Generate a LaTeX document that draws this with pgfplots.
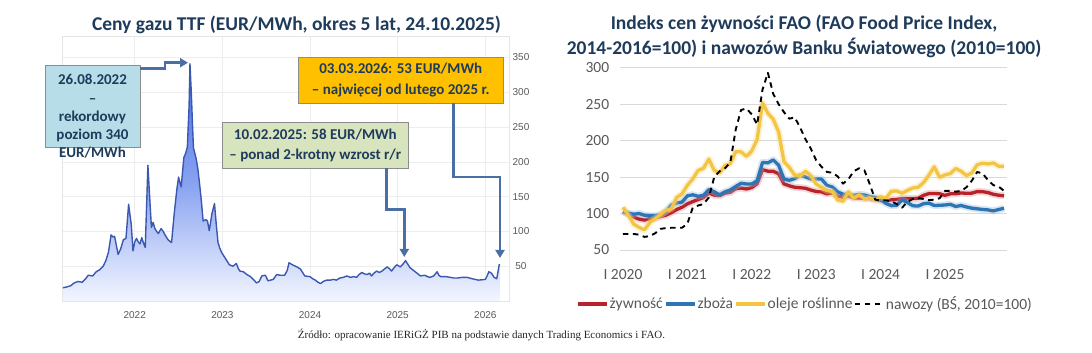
\documentclass[border=0pt]{standalone}
\usepackage{fontspec}
\setmainfont{Carlito}
\newfontfamily\arialf{Liberation Sans}
\newfontfamily\timesf{Liberation Serif}
\usepackage{pgfplots}
\usepackage{pgfplotstable}
\pgfplotsset{compat=1.18}
\usetikzlibrary{arrows.meta}
\definecolor{navy}{HTML}{1F3B5C}
\definecolor{arrowc}{HTML}{4A6FA5}
\definecolor{boxblue}{HTML}{B7DEE8}
\definecolor{boxgreen}{HTML}{D7E4BD}
\definecolor{boxorange}{HTML}{FFC000}
\definecolor{ttfline}{HTML}{3A58B0}
\definecolor{ttftop}{HTML}{4A6EE6}
\definecolor{ttfmid}{HTML}{88A2F1}
\definecolor{ttfbot}{HTML}{F3F6FF}
\definecolor{cred}{HTML}{B8232B}
\definecolor{cblue}{HTML}{2E75B6}
\definecolor{cyellow}{HTML}{F4C542}
\definecolor{lblgray}{HTML}{595959}

\pgfplotstableread{
x y
2021.18 19
2021.22 20
2021.27 22
2021.31 26
2021.35 28
2021.40 27
2021.44 32
2021.47 37
2021.52 36
2021.56 42
2021.60 45
2021.64 50
2021.67 58
2021.70 70
2021.73 95
2021.75 92
2021.77 93
2021.79 80
2021.81 67
2021.84 75
2021.87 88
2021.90 90
2021.93 139
2021.96 110
2021.98 72
2022.00 85
2022.02 90
2022.04 85
2022.06 82
2022.08 91
2022.10 83
2022.12 77
2022.15 195
2022.17 150
2022.19 106
2022.21 113
2022.23 104
2022.25 100
2022.27 97
2022.30 104
2022.32 101
2022.35 94
2022.38 88
2022.40 86
2022.42 84
2022.45 125
2022.48 160
2022.50 178
2022.52 168
2022.53 164
2022.56 206
2022.58 212
2022.60 221
2022.62 280
2022.63 341
2022.645 300
2022.66 250
2022.67 220
2022.70 205
2022.72 190
2022.74 168
2022.76 144
2022.78 115
2022.81 117
2022.83 115
2022.85 101
2022.88 125
2022.91 140
2022.93 110
2022.95 84
2022.97 76
2022.99 70
2023.02 64
2023.05 58
2023.08 52
2023.12 50
2023.14 52
2023.16 54
2023.18 47
2023.20 43
2023.24 42
2023.28 38
2023.32 35
2023.36 30
2023.39 26
2023.42 28
2023.45 36
2023.49 37
2023.52 29
2023.55 30
2023.58 31
2023.62 38
2023.66 37
2023.71 37
2023.74 44
2023.76 55
2023.80 52
2023.85 49
2023.89 46
2023.92 40
2023.94 36
2024.00 35
2024.03 32
2024.06 30
2024.09 27
2024.12 25
2024.15 28
2024.19 30
2024.23 30
2024.27 31
2024.30 30
2024.34 33
2024.38 34
2024.42 36
2024.46 34
2024.50 35
2024.53 34
2024.56 38
2024.59 41
2024.62 39
2024.65 38
2024.68 40
2024.70 36
2024.73 40
2024.76 43
2024.79 41
2024.82 43
2024.85 46
2024.88 49
2024.91 46
2024.93 43
2024.96 48
2024.99 52
2025.03 49
2025.06 53
2025.09 58
2025.12 52
2025.14 48
2025.17 45
2025.20 42
2025.23 39
2025.26 36
2025.31 37
2025.34 35
2025.37 34
2025.41 36
2025.45 42
2025.47 37
2025.49 35
2025.55 35
2025.60 34
2025.64 33
2025.68 33
2025.74 34
2025.79 34
2025.85 32
2025.92 30
2026.00 31
2026.02 36
2026.04 42
2026.07 40
2026.10 34
2026.13 32
2026.16 53
}\ttf

\pgfplotstableread{
m food cer oil fert
0 102.5 103.0 108.7 72
1 99.4 100.4 97.6 72
2 95.1 99.1 85.5 72
3 92.4 100.0 81.0 71
4 91.0 97.7 77.8 68
5 93.1 96.9 87.6 69
6 94.0 96.9 93.1 73
7 95.9 98.6 98.7 79
8 97.8 102.6 104.6 80
9 101.2 111.6 106.4 80.5
10 105.5 114.5 121.9 80.5
11 108.6 115.7 127.0 80.5
12 113.3 124.2 138.8 86
13 116.4 125.7 147.4 108
14 119.2 123.6 159.2 111
15 121.9 125.1 162.0 113
16 128.1 132.8 174.7 122
17 125.3 129.9 159.3 150
18 124.6 125.5 155.6 158
19 128.0 129.6 165.7 162
20 129.2 132.3 168.6 170
21 134.0 137.1 184.8 215
22 135.0 141.5 184.6 242
23 133.7 140.6 178.5 244
24 135.6 140.6 185.9 236
25 141.1 144.8 201.7 222
26 160.2 170.1 251.8 270
27 158.1 169.5 237.5 293
28 157.9 173.5 229.3 264
29 154.7 166.3 211.8 250
30 140.7 147.3 171.1 239
31 138.0 145.6 163.3 230
32 136.0 147.9 152.6 232
33 135.4 152.3 151.3 218
34 134.7 150.3 158.0 202
35 132.2 147.3 152.0 189
36 130.2 147.5 140.4 173
37 129.7 147.2 135.9 164
38 127.0 138.6 131.8 157
39 128.3 136.4 130.0 156
40 124.0 129.7 118.7 151
41 122.4 126.6 116.8 141
42 123.9 125.9 129.9 147
43 121.5 125.0 120.9 158
44 121.5 126.3 125.8 162
45 120.7 125.4 120.0 159
46 120.6 123.3 121.5 140
47 119.1 122.1 118.6 119
48 118.0 120.1 123.0 118
49 117.2 113.8 120.9 118
50 118.9 110.8 130.6 117
51 119.3 111.2 130.9 113
52 120.6 118.7 127.8 108
53 120.4 115.2 131.8 116
54 120.6 110.7 135.0 120
55 120.9 110.2 136.0 121
56 124.9 113.5 142.4 120
57 127.4 114.4 152.7 118.5
58 127.5 111.0 164.1 119
59 127.1 111.3 149.6 121
60 124.9 111.7 153.0 131
61 127.1 112.6 154.8 131
62 127.1 109.7 161.8 130
63 128.3 111.0 158.0 131
64 127.7 109.0 152.1 136
65 128.0 107.4 155.7 145
66 130.1 106.5 166.8 157
67 130.0 105.6 169.1 155
68 128.8 105.0 167.9 146
69 126.4 103.6 169.4 139
70 125.1 105.5 165.0 137
71 124.3 107.3 164.6 131
}\fao

\begin{document}
\begin{tikzpicture}[x=1pt,y=1pt]
\path[fill=white] (0pt,0pt) rectangle (1092pt,353pt);

% ---------- left: TTF ----------
\begin{axis}[at={(62pt,52pt)}, anchor=south west, scale only axis,
  width=447pt, height=264.4pt,
  xmin=2021.17, xmax=2026.27, ymin=0, ymax=380,
  xtick={2022,2023,2024,2025,2026}, ytick={50,100,...,350},
  yticklabel pos=right,
  grid=major, grid style={draw=black!7, line width=0.6pt},
  axis line style={draw=black!10},
  major tick length=0pt,
  /pgf/number format/1000 sep={},
  /pgf/number format/assume math mode=true,
  tick label style={font=\arialf\fontsize{10}{12}\selectfont, text=black!65, inner sep=0pt},
  xticklabel style={anchor=center, yshift=-13.6pt},
  yticklabel style={anchor=center, xshift=12pt},
]
\addplot[draw=none, top color=ttftop, bottom color=ttfbot, middle color=ttfmid, forget plot] table[x=x,y=y] {\ttf} \closedcycle;
\addplot[ttfline, line width=1.4pt, line join=round] table[x=x,y=y] {\ttf};
\end{axis}

% annotations
\node[draw=black!45, fill=boxblue, minimum width=95pt, minimum height=82.3pt, inner sep=0pt] at (92.5pt,246.8pt) {};
\node[align=center, font=\fontsize{15}{18.2}\selectfont\bfseries, text=navy] at (92.5pt,236.6pt) {26.08.2022\\–\\rekordowy\\poziom 340\\EUR/MWh};
\draw[arrowc, line width=2.6pt, -{Triangle[length=8pt,width=9pt]}] (140pt,284.7pt) -- (165pt,284.7pt) -- (165pt,290.3pt) -- (188pt,290.3pt);

\node[draw=black!45, fill=boxgreen, minimum width=186pt, minimum height=46pt, inner sep=0pt] at (315.35pt,208pt) {};
\node[align=center, font=\fontsize{15}{20}\selectfont\bfseries, text=navy] at (315.35pt,208pt) {10.02.2025: 58 EUR/MWh\\– ponad 2-krotny wzrost r/r};
\draw[arrowc, line width=2.6pt, -{Triangle[length=8pt,width=9pt]}] (386.7pt,185pt) -- (386.7pt,143.7pt) -- (404.3pt,143.7pt) -- (404.3pt,96pt);

\node[draw=black!45, fill=boxorange, minimum width=205.5pt, minimum height=46.5pt, inner sep=0pt] at (400.75pt,272.75pt) {};
\node[align=center, font=\fontsize{15}{20.6}\selectfont\bfseries, text=navy] at (400.75pt,272.75pt) {03.03.2026: 53 EUR/MWh\\– najwięcej od lutego 2025 r.};
\draw[arrowc, line width=2.6pt, -{Triangle[length=8pt,width=9pt]}] (453.7pt,249.5pt) -- (453.7pt,176pt) -- (500pt,176pt) -- (500pt,95pt);

\node[font=\fontsize{19.5}{23}\selectfont\bfseries, text=navy] at (296.5pt,328pt) {Ceny gazu TTF (EUR/MWh, okres 5 lat, 24.10.2025)};

% ---------- right: FAO ----------
\begin{axis}[at={(620.3pt,103pt)}, anchor=south west, scale only axis,
  width=386.4pt, height=182.3pt,
  xmin=-0.5, xmax=71.5, ymin=50, ymax=300,
  ytick={50,100,...,300},
  xtick={0,12,24,36,48,60},
  xticklabels={I 2020,I 2021,I 2022,I 2023,I 2024,I 2025},
  ymajorgrids, grid style={draw=black!15, line width=0.8pt},
  axis line style={draw=none},
  major tick length=0pt,
  /pgf/number format/assume math mode=true,
  tick label style={font=\fontsize{15.5}{18}\selectfont, text=lblgray, inner sep=0pt},
  xticklabel style={anchor=center, yshift=-24.5pt},
  yticklabel style={anchor=east, xshift=-11pt},
  legend columns=-1,
  legend style={at={(0.477,-0.296)}, anchor=center, draw=none, fill=none,
    font=\fontsize{15.5}{18}\selectfont, text=lblgray, inner sep=0pt,
    nodes={inner sep=1.2pt}},
  legend image code/.code={\draw[#1] (0pt,0pt) -- (29pt,0pt);},
]
\addplot[cred!50, opacity=0.35, line width=7pt, line join=round, forget plot] table[x=m,y=food] {\fao};
\addplot[cred, line width=3.3pt, line join=round] table[x=m,y=food] {\fao};
\addplot[cblue!50, opacity=0.35, line width=7pt, line join=round, forget plot] table[x=m,y=cer] {\fao};
\addplot[cblue, line width=3.3pt, line join=round] table[x=m,y=cer] {\fao};
\addplot[cyellow!60, opacity=0.35, line width=7pt, line join=round, forget plot] table[x=m,y=oil] {\fao};
\addplot[cyellow, line width=3.3pt, line join=round] table[x=m,y=oil] {\fao};
\addplot[black, line width=1.9pt, dash pattern=on 5.5pt off 4.5pt, line join=round] table[x=m,y=fert] {\fao};
\legend{żywność,zboża,oleje roślinne,{nawozy (BŚ, 2010=100)}}
\end{axis}

\node[align=center, font=\fontsize{19.5}{24.4}\selectfont\bfseries, text=navy] at (804pt,316.4pt) {Indeks cen żywności FAO (FAO Food Price Index,\\2014-2016=100) i nawozów Banku Światowego (2010=100)};

\node[font=\timesf\fontsize{11}{13}\selectfont, text=black!85] at (481.5pt,18pt) {Źródło: opracowanie IERiGŻ PIB na podstawie danych Trading Economics i FAO.};
\end{tikzpicture}
\end{document}
